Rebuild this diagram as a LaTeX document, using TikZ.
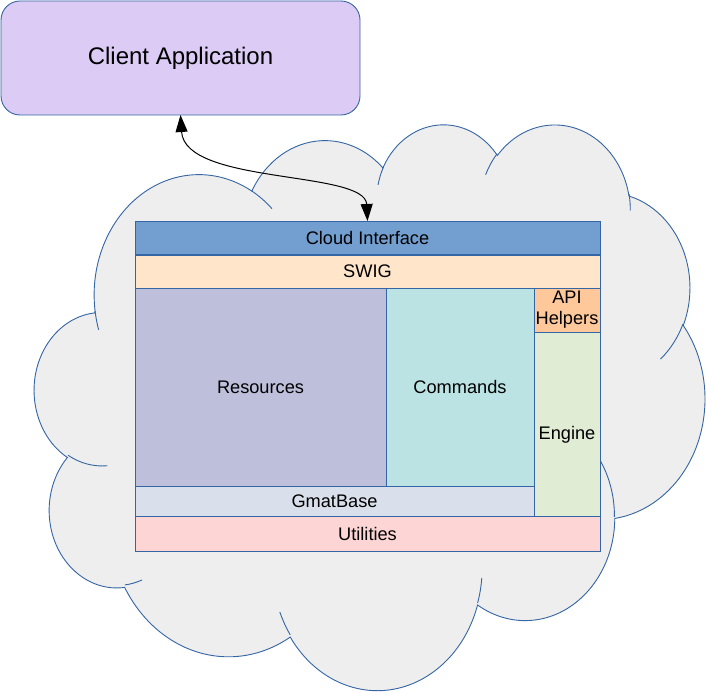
\documentclass[tikz,border=0pt]{standalone}
\usepackage{fontspec}
\setmainfont{Liberation Sans}
\usetikzlibrary{arrows.meta}
\definecolor{cbord}{HTML}{3465A4}
\definecolor{cloudfill}{HTML}{EEEEEE}
\definecolor{clientfill}{RGB}{219,203,245}
\definecolor{cifill}{HTML}{729FCF}
\definecolor{swigfill}{HTML}{FFE5CA}
\definecolor{resfill}{HTML}{BEBFDB}
\definecolor{cmdfill}{HTML}{BBE3E3}
\definecolor{apifill}{HTML}{FEC89A}
\definecolor{engfill}{HTML}{E0ECD4}
\definecolor{gmatfill}{HTML}{DAE0EB}
\definecolor{utilfill}{HTML}{FCD5D4}
\newcommand\boxfont{\fontsize{18.2}{21}\selectfont}
\newcommand\clientfont{\fontsize{24}{28}\selectfont}
% name, wR, hR, start (visual), sweep  -> parametric start/delta
\newcommand\CloudArc[5]{%
  \pgfmathsetmacro\cldtmpS{atan2((#2)*sin(#4),(#3)*cos(#4))}%
  \pgfmathsetmacro\cldtmpD{mod(atan2((#2)*sin((#4)+(#5)),(#3)*cos((#4)+(#5)))-\cldtmpS+720,360)}%
  \expandafter\xdef\csname cldS#1\endcsname{\cldtmpS}%
  \expandafter\xdef\csname cldD#1\endcsname{\cldtmpD}%
}
\CloudArc{a}{67.53}{91.90}{-190.48748}{123.78053}
\CloudArc{b}{53.33}{72.67}{-144.10238}{89.94523}
\CloudArc{c}{43.65}{59.45}{-145.80792}{99.72302}
\CloudArc{d}{48.57}{65.95}{-130.98607}{117.24173}
\CloudArc{e}{53.33}{72.73}{-78.70888}{109.02692}
\CloudArc{f}{67.75}{92.20}{-46.26725}{130.269}
\CloudArc{g}{57.85}{78.67}{0.62502}{114.03333}
\CloudArc{h}{67.52}{92.15}{22.4516}{115.17255}
\CloudArc{i}{77.20}{105.43}{66.24263}{75.71102}
\CloudArc{j}{43.60}{59.18}{-274.94208}{146.73557}
\CloudArc{k}{43.45}{59.45}{-246.8285}{152.51885}
\CloudArc{m}{43.45}{59.45}{86.742}{26.4295}
\CloudArc{n}{43.60}{59.18}{73.61047}{11.44747}
\CloudArc{o}{67.52}{92.15}{137.62415}{14.0811}
\CloudArc{p}{67.52}{92.15}{6.45327}{15.99835}
\CloudArc{q}{57.85}{78.67}{-70.29235}{70.91737}
\CloudArc{r}{53.33}{72.73}{30.31803}{27.7515}
\CloudArc{s}{48.57}{65.95}{-13.74433}{14.8547}
\CloudArc{t}{48.57}{65.95}{-149.18145}{18.18467}
\CloudArc{u}{43.65}{59.45}{-163.49427}{17.69797}
\CloudArc{v}{67.53}{91.90}{-66.70695}{12.31935}
\CloudArc{w}{67.53}{91.90}{157.65435}{11.85817}
\begin{document}
\begin{tikzpicture}[x=1pt,y=-1pt,
  cloudline/.style={draw=cbord, line width=0.9pt},
  layer/.style={draw=cbord, line width=0.9pt, inner sep=0pt, outer sep=0pt, anchor=north west, font=\boxfont, text=black},
  clientbox/.style={draw=cbord, line width=0.9pt, fill=clientfill, rounded corners=19pt, inner sep=0pt, outer sep=0pt, anchor=north west, font=\clientfont},
  conn/.style={draw=black, line width=1pt, {Triangle[length=17pt,width=12pt]}-{Triangle[length=17pt,width=12pt]}}]
\useasboundingbox (0,0) rectangle (706,692);
% cloud
\begin{scope}[shift={(34.6,123.0)}, x=1pt, y=1pt, xscale=1.5512, yscale=-1.3093]
\path[cloudline, fill=cloudfill] (39.00,143.70)
  arc[x radius=67.53pt, y radius=91.90pt, start angle=\cldSa, delta angle=\cldDa]
  arc[x radius=53.33pt, y radius=72.67pt, start angle=\cldSb, delta angle=\cldDb]
  arc[x radius=43.65pt, y radius=59.45pt, start angle=\cldSc, delta angle=\cldDc]
  arc[x radius=48.57pt, y radius=65.95pt, start angle=\cldSd, delta angle=\cldDd]
  arc[x radius=53.33pt, y radius=72.73pt, start angle=\cldSe, delta angle=\cldDe]
  arc[x radius=67.75pt, y radius=92.20pt, start angle=\cldSf, delta angle=\cldDf]
  arc[x radius=57.85pt, y radius=78.67pt, start angle=\cldSg, delta angle=\cldDg]
  arc[x radius=67.52pt, y radius=92.15pt, start angle=\cldSh, delta angle=\cldDh]
  arc[x radius=77.20pt, y radius=105.43pt, start angle=\cldSi, delta angle=\cldDi]
  arc[x radius=43.60pt, y radius=59.18pt, start angle=\cldSj, delta angle=\cldDj]
  arc[x radius=43.45pt, y radius=59.45pt, start angle=\cldSk, delta angle=\cldDk]
  -- cycle;
\path[cloudline]
  (46.93,261.77) arc[x radius=43.45pt, y radius=59.45pt, start angle=\cldSm, delta angle=\cldDm]
  (69.28,348.99) arc[x radius=43.60pt, y radius=59.18pt, start angle=\cldSn, delta angle=\cldDn]
  (164.78,390.90) arc[x radius=67.52pt, y radius=92.15pt, start angle=\cldSo, delta angle=\cldDo]
  (288.27,347.51) arc[x radius=67.52pt, y radius=92.15pt, start angle=\cldSp, delta angle=\cldDp]
  (341.29,229.54) arc[x radius=57.85pt, y radius=78.67pt, start angle=\cldSq, delta angle=\cldDq]
  (417.98,153.54) arc[x radius=53.33pt, y radius=72.73pt, start angle=\cldSr, delta angle=\cldDr]
  (383.24,54.26) arc[x radius=48.57pt, y radius=65.95pt, start angle=\cldSs, delta angle=\cldDs]
  (290.78,39.52) arc[x radius=48.57pt, y radius=65.95pt, start angle=\cldSt, delta angle=\cldDt]
  (221.41,47.20) arc[x radius=43.65pt, y radius=59.45pt, start angle=\cldSu, delta angle=\cldDu]
  (140.00,51.92) arc[x radius=67.53pt, y radius=91.90pt, start angle=\cldSv, delta angle=\cldDv]
  (41.27,157.89) arc[x radius=67.53pt, y radius=91.90pt, start angle=\cldSw, delta angle=\cldDw];
\end{scope}
% client
\node[clientbox, minimum width=359pt, minimum height=114pt] (client) at (1,1) {Client Application};
% layers
\node[layer, fill=cifill, minimum width=465pt, minimum height=33pt] (ci) at (135,221) {Cloud Interface};
\node[layer, fill=swigfill, minimum width=465pt, minimum height=33pt] (swig) at (135,255) {SWIG};
\node[layer, fill=resfill, minimum width=251pt, minimum height=198pt] (res) at (135,288) {Resources};
\node[layer, fill=cmdfill, minimum width=148pt, minimum height=198pt] (cmd) at (386,288) {Commands};
\node[layer, fill=apifill, minimum width=66pt, minimum height=44pt, align=center] (api) at (534,288) {API\\Helpers};
\node[layer, fill=engfill, minimum width=66pt, minimum height=184pt, text height=35pt, text depth=4pt] (eng) at (534,332) {Engine};
\node[layer, fill=gmatfill, minimum width=399pt, minimum height=30pt] (gmat) at (135,486) {GmatBase};
\node[layer, fill=utilfill, minimum width=465pt, minimum height=35pt] (util) at (135,516) {Utilities};
% connector
\draw[conn] (client.south) .. controls (185,185) and (365,170) .. (ci.north);
\end{tikzpicture}
\end{document}
